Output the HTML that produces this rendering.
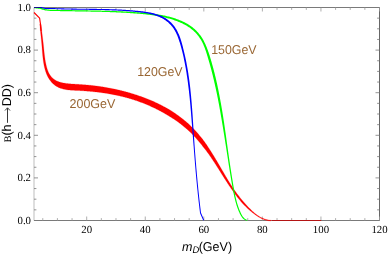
<!DOCTYPE html>
<html><head><meta charset="utf-8"><title>plot</title>
<style>
html,body{margin:0;padding:0;background:#fff;}
body{width:388px;height:255px;overflow:hidden;}
svg{display:block;will-change:transform;}
.t{font-family:"Liberation Serif",serif;font-size:10.8px;fill:#000;}
text{text-rendering:geometricPrecision;}
.l{font-family:"Liberation Sans",sans-serif;font-size:12.8px;fill:#996633;}
.a{font-family:"Liberation Sans",sans-serif;font-size:12.8px;fill:#000;}
</style></head><body>
<svg width="388" height="255" viewBox="0 0 388 255">
<rect width="388" height="255" fill="#fff"/>
<!-- frame -->
<path d="M34.0 7.5 V220.5" stroke="#bdbdbd" stroke-width="1" fill="none"/>
<path d="M379.5 7.5 V220.5" stroke="#666" stroke-width="1" fill="none"/>
<path d="M34.0 7.5 H379.5 M34.0 220.5 H379.5" stroke="#7a7a7a" stroke-width="1" fill="none"/>
<path d="M42.78 220.5 V218.10 M42.78 7.5 V9.90" stroke="#9a9a9a" stroke-width="0.8"/>
<path d="M57.42 220.5 V218.10 M57.42 7.5 V9.90" stroke="#9a9a9a" stroke-width="0.8"/>
<path d="M72.06 220.5 V218.10 M72.06 7.5 V9.90" stroke="#9a9a9a" stroke-width="0.8"/>
<path d="M86.70 220.5 V216.50 M86.70 7.5 V11.50" stroke="#9a9a9a" stroke-width="0.8"/>
<path d="M101.34 220.5 V218.10 M101.34 7.5 V9.90" stroke="#9a9a9a" stroke-width="0.8"/>
<path d="M115.98 220.5 V218.10 M115.98 7.5 V9.90" stroke="#9a9a9a" stroke-width="0.8"/>
<path d="M130.62 220.5 V218.10 M130.62 7.5 V9.90" stroke="#9a9a9a" stroke-width="0.8"/>
<path d="M145.26 220.5 V216.50 M145.26 7.5 V11.50" stroke="#9a9a9a" stroke-width="0.8"/>
<path d="M159.90 220.5 V218.10 M159.90 7.5 V9.90" stroke="#9a9a9a" stroke-width="0.8"/>
<path d="M174.54 220.5 V218.10 M174.54 7.5 V9.90" stroke="#9a9a9a" stroke-width="0.8"/>
<path d="M189.18 220.5 V218.10 M189.18 7.5 V9.90" stroke="#9a9a9a" stroke-width="0.8"/>
<path d="M203.82 220.5 V216.50 M203.82 7.5 V11.50" stroke="#9a9a9a" stroke-width="0.8"/>
<path d="M218.46 220.5 V218.10 M218.46 7.5 V9.90" stroke="#9a9a9a" stroke-width="0.8"/>
<path d="M233.10 220.5 V218.10 M233.10 7.5 V9.90" stroke="#9a9a9a" stroke-width="0.8"/>
<path d="M247.74 220.5 V218.10 M247.74 7.5 V9.90" stroke="#9a9a9a" stroke-width="0.8"/>
<path d="M262.38 220.5 V216.50 M262.38 7.5 V11.50" stroke="#9a9a9a" stroke-width="0.8"/>
<path d="M277.02 220.5 V218.10 M277.02 7.5 V9.90" stroke="#9a9a9a" stroke-width="0.8"/>
<path d="M291.66 220.5 V218.10 M291.66 7.5 V9.90" stroke="#9a9a9a" stroke-width="0.8"/>
<path d="M306.30 220.5 V218.10 M306.30 7.5 V9.90" stroke="#9a9a9a" stroke-width="0.8"/>
<path d="M320.94 220.5 V216.50 M320.94 7.5 V11.50" stroke="#9a9a9a" stroke-width="0.8"/>
<path d="M335.58 220.5 V218.10 M335.58 7.5 V9.90" stroke="#9a9a9a" stroke-width="0.8"/>
<path d="M350.22 220.5 V218.10 M350.22 7.5 V9.90" stroke="#9a9a9a" stroke-width="0.8"/>
<path d="M364.86 220.5 V218.10 M364.86 7.5 V9.90" stroke="#9a9a9a" stroke-width="0.8"/>
<path d="M379.50 220.5 V216.50 M379.50 7.5 V11.50" stroke="#9a9a9a" stroke-width="0.8"/>
<path d="M34.0 220.50 H38.00 M379.5 220.50 H375.50" stroke="#7a7a7a" stroke-width="0.8"/>
<path d="M34.0 209.85 H36.40 M379.5 209.85 H377.10" stroke="#7a7a7a" stroke-width="0.8"/>
<path d="M34.0 199.20 H36.40 M379.5 199.20 H377.10" stroke="#7a7a7a" stroke-width="0.8"/>
<path d="M34.0 188.55 H36.40 M379.5 188.55 H377.10" stroke="#7a7a7a" stroke-width="0.8"/>
<path d="M34.0 177.90 H38.00 M379.5 177.90 H375.50" stroke="#7a7a7a" stroke-width="0.8"/>
<path d="M34.0 167.25 H36.40 M379.5 167.25 H377.10" stroke="#7a7a7a" stroke-width="0.8"/>
<path d="M34.0 156.60 H36.40 M379.5 156.60 H377.10" stroke="#7a7a7a" stroke-width="0.8"/>
<path d="M34.0 145.95 H36.40 M379.5 145.95 H377.10" stroke="#7a7a7a" stroke-width="0.8"/>
<path d="M34.0 135.30 H38.00 M379.5 135.30 H375.50" stroke="#7a7a7a" stroke-width="0.8"/>
<path d="M34.0 124.65 H36.40 M379.5 124.65 H377.10" stroke="#7a7a7a" stroke-width="0.8"/>
<path d="M34.0 114.00 H36.40 M379.5 114.00 H377.10" stroke="#7a7a7a" stroke-width="0.8"/>
<path d="M34.0 103.35 H36.40 M379.5 103.35 H377.10" stroke="#7a7a7a" stroke-width="0.8"/>
<path d="M34.0 92.70 H38.00 M379.5 92.70 H375.50" stroke="#7a7a7a" stroke-width="0.8"/>
<path d="M34.0 82.05 H36.40 M379.5 82.05 H377.10" stroke="#7a7a7a" stroke-width="0.8"/>
<path d="M34.0 71.40 H36.40 M379.5 71.40 H377.10" stroke="#7a7a7a" stroke-width="0.8"/>
<path d="M34.0 60.75 H36.40 M379.5 60.75 H377.10" stroke="#7a7a7a" stroke-width="0.8"/>
<path d="M34.0 50.10 H38.00 M379.5 50.10 H375.50" stroke="#7a7a7a" stroke-width="0.8"/>
<path d="M34.0 39.45 H36.40 M379.5 39.45 H377.10" stroke="#7a7a7a" stroke-width="0.8"/>
<path d="M34.0 28.80 H36.40 M379.5 28.80 H377.10" stroke="#7a7a7a" stroke-width="0.8"/>
<path d="M34.0 18.15 H36.40 M379.5 18.15 H377.10" stroke="#7a7a7a" stroke-width="0.8"/>
<path d="M34.0 7.50 H38.00 M379.5 7.50 H375.50" stroke="#7a7a7a" stroke-width="0.8"/>
<!-- curves -->
<path d="M34.00 12.50 L39.60 18.20 L40.50 24.00 L41.10 31.00" stroke="#ff0000" stroke-width="1.15" fill="none" stroke-linejoin="round"/>
<path d="M39.78 24.07 L39.83 24.75 L39.89 25.43 L39.95 26.11 L40.02 26.78 L40.08 27.45 L40.14 28.12 L40.21 28.79 L40.27 29.45 L40.34 30.12 L40.40 30.78 L40.47 31.44 L40.54 32.10 L40.61 32.76 L40.67 33.42 L40.74 34.08 L40.81 34.74 L40.88 35.39 L40.95 36.05 L41.01 36.71 L41.08 37.36 L41.15 38.02 L41.21 38.67 L41.28 39.33 L41.35 39.99 L41.41 40.64 L41.47 41.30 L41.54 41.96 L41.60 42.62 L41.66 43.28 L41.72 43.94 L41.78 44.60 L41.83 45.26 L41.89 45.93 L41.94 46.59 L41.99 47.26 L42.05 47.93 L42.10 48.60 L42.15 49.28 L42.21 49.95 L42.26 50.63 L42.31 51.30 L42.37 51.98 L42.43 52.66 L42.49 53.34 L42.55 54.02 L42.61 54.70 L42.67 55.38 L42.74 56.06 L42.81 56.75 L42.88 57.43 L42.96 58.11 L43.04 58.80 L43.13 59.48 L43.21 60.16 L43.31 60.85 L43.40 61.53 L43.51 62.22 L43.62 62.90 L43.73 63.58 L43.85 64.27 L43.98 64.95 L44.11 65.63 L44.26 66.31 L44.41 66.99 L44.56 67.67 L44.73 68.35 L44.90 69.02 L45.09 69.69 L45.28 70.36 L45.49 71.03 L45.70 71.69 L45.93 72.34 L46.16 72.99 L46.41 73.64 L46.67 74.28 L46.94 74.91 L47.23 75.54 L47.53 76.16 L47.83 76.77 L48.16 77.38 L48.49 77.98 L48.85 78.57 L49.23 79.14 L49.62 79.71 L50.01 80.27 L50.42 80.83 L50.84 81.37 L51.28 81.91 L51.75 82.41 L52.24 82.90 L52.72 83.40 L53.22 83.89 L53.73 84.36 L54.27 84.81 L54.82 85.23 L55.40 85.63 L55.99 86.00 L56.59 86.38 L57.19 86.74 L57.81 87.07 L58.44 87.39 L59.08 87.67 L59.73 87.93 L60.38 88.17 L61.04 88.40 L61.71 88.62 L62.38 88.82 L63.06 89.01 L63.74 89.17 L64.42 89.32 L65.11 89.45 L65.80 89.58 L66.49 89.69 L67.19 89.79 L67.88 89.88 L68.58 89.96 L69.28 90.03 L69.97 90.09 L70.67 90.15 L71.37 90.20 L72.06 90.24 L72.76 90.28 L73.45 90.32 L74.15 90.35 L74.84 90.38 L75.53 90.41 L76.21 90.44 L76.90 90.47 L77.58 90.51 L78.26 90.54 L78.94 90.57 L79.62 90.61 L80.29 90.64 L80.97 90.68 L81.65 90.73 L82.32 90.77 L83.00 90.82 L83.67 90.87 L84.35 90.92 L85.02 90.97 L85.69 91.03 L86.36 91.08 L87.03 91.14 L87.70 91.20 L88.38 91.26 L89.05 91.31 L89.72 91.37 L90.39 91.43 L91.05 91.49 L91.72 91.55 L92.39 91.62 L93.06 91.68 L93.72 91.75 L94.39 91.82 L95.05 91.89 L95.72 91.97 L96.38 92.04 L97.05 92.12 L97.71 92.20 L98.37 92.28 L99.03 92.36 L99.69 92.44 L100.35 92.53 L101.01 92.61 L101.67 92.70 L102.33 92.79 L102.99 92.88 L103.65 92.98 L104.30 93.07 L104.96 93.17 L105.61 93.27 L106.27 93.36 L106.93 93.46 L107.58 93.57 L108.23 93.68 L108.88 93.79 L109.53 93.91 L110.18 94.03 L110.83 94.14 L111.48 94.27 L112.13 94.39 L112.78 94.51 L113.42 94.64 L114.07 94.77 L114.72 94.90 L115.36 95.03 L116.01 95.17 L116.65 95.30 L117.29 95.44 L117.93 95.58 L118.57 95.72 L119.22 95.87 L119.86 96.01 L120.50 96.16 L121.13 96.31 L121.77 96.46 L122.41 96.62 L123.05 96.77 L123.68 96.93 L124.32 97.09 L124.95 97.25 L125.59 97.41 L126.22 97.58 L126.85 97.75 L127.48 97.92 L128.12 98.09 L128.75 98.27 L129.37 98.45 L130.00 98.63 L130.63 98.81 L131.26 99.00 L131.88 99.19 L132.50 99.39 L133.13 99.58 L133.75 99.78 L134.37 99.98 L134.99 100.19 L135.61 100.40 L136.23 100.61 L136.85 100.82 L137.46 101.03 L138.08 101.25 L138.69 101.47 L139.31 101.69 L139.92 101.92 L140.53 102.15 L141.14 102.38 L141.75 102.61 L142.36 102.84 L142.97 103.08 L143.58 103.32 L144.18 103.56 L144.79 103.81 L145.39 104.06 L146.00 104.31 L146.60 104.56 L147.20 104.82 L147.80 105.07 L148.41 105.33 L149.01 105.59 L149.60 105.86 L150.20 106.12 L150.80 106.39 L151.40 106.66 L151.99 106.93 L152.59 107.20 L153.19 107.48 L153.78 107.76 L154.37 108.04 L154.96 108.32 L155.56 108.61 L156.15 108.90 L156.74 109.19 L157.32 109.49 L157.91 109.78 L158.49 110.09 L159.08 110.39 L159.66 110.70 L160.24 111.01 L160.82 111.33 L161.40 111.64 L161.97 111.96 L162.55 112.28 L163.12 112.61 L163.70 112.94 L164.27 113.27 L164.84 113.60 L165.41 113.93 L165.97 114.27 L166.54 114.60 L167.11 114.94 L167.67 115.28 L168.24 115.62 L168.80 115.97 L169.36 116.31 L169.93 116.65 L170.49 117.00 L171.05 117.35 L171.61 117.70 L172.16 118.05 L172.72 118.40 L173.28 118.76 L173.83 119.12 L174.38 119.48 L174.93 119.84 L175.48 120.21 L176.02 120.57 L176.57 120.94 L177.11 121.32 L177.64 121.70 L178.17 122.09 L178.70 122.48 L179.23 122.88 L179.75 123.27 L180.27 123.68 L180.79 124.08 L181.30 124.49 L181.82 124.89 L182.33 125.31 L182.83 125.72 L183.34 126.14 L183.85 126.55 L184.35 126.97 L184.85 127.39 L185.35 127.82 L185.85 128.24 L186.34 128.67 L186.83 129.10 L187.32 129.53 L187.81 129.96 L188.30 130.40 L188.79 130.83 L189.27 131.27 L189.74 131.72 L190.22 132.17 L190.69 132.62 L191.15 133.08 L191.61 133.54 L192.07 134.01 L192.53 134.47 L192.99 134.94 L193.44 135.42 L193.88 135.90 L194.33 136.38 L194.77 136.86 L195.21 137.34 L195.65 137.83 L196.08 138.32 L196.51 138.81 L196.94 139.31 L197.37 139.81 L197.80 140.30 L198.23 140.81 L198.65 141.31 L199.07 141.81 L199.49 142.32 L199.91 142.82 L200.33 143.33 L200.75 143.84 L201.17 144.35 L201.59 144.86 L202.01 145.37 L202.42 145.89 L202.84 146.40 L203.25 146.92 L203.66 147.43 L204.07 147.95 L204.48 148.47 L204.89 149.00 L205.30 149.52 L205.70 150.05 L206.11 150.57 L206.51 151.10 L206.91 151.63 L207.31 152.17 L207.70 152.70 L208.09 153.24 L208.48 153.78 L208.86 154.32 L209.25 154.87 L209.63 155.41 L210.01 155.96 L210.39 156.51 L210.77 157.06 L211.14 157.61 L211.52 158.16 L211.89 158.71 L212.26 159.27 L212.63 159.82 L213.00 160.38 L213.37 160.93 L213.74 161.49 L214.10 162.05 L214.47 162.61 L214.83 163.17 L215.19 163.73 L215.55 164.29 L215.91 164.85 L216.27 165.41 L216.63 165.97 L216.99 166.54 L217.35 167.10 L217.71 167.67 L218.06 168.23 L218.42 168.79 L218.77 169.36 L219.13 169.93 L219.48 170.49 L219.84 171.06 L220.19 171.62 L220.55 172.19 L220.90 172.75 L221.26 173.32 L221.61 173.89 L221.97 174.45 L222.32 175.02 L222.68 175.58 L223.04 176.15 L223.39 176.72 L223.75 177.28 L224.11 177.84 L224.47 178.41 L224.83 178.97 L225.19 179.54 L225.55 180.10 L225.91 180.66 L226.27 181.22 L226.64 181.78 L227.00 182.34 L227.37 182.90 L227.74 183.46 L228.10 184.02 L228.47 184.58 L228.85 185.14 L229.22 185.70 L229.59 186.25 L229.97 186.81 L230.34 187.36 L230.72 187.92 L231.10 188.47 L231.48 189.02 L231.86 189.57 L232.24 190.12 L232.63 190.67 L233.01 191.22 L233.40 191.77 L233.79 192.32 L234.19 192.86 L234.58 193.41 L234.97 193.95 L235.37 194.50 L235.77 195.04 L236.18 195.58 L236.58 196.12 L236.99 196.65 L237.41 197.19 L237.82 197.72 L238.24 198.25 L238.67 198.78 L239.10 199.30 L239.53 199.83 L239.96 200.35 L240.40 200.87 L240.84 201.38 L241.29 201.89 L241.73 202.40 L242.19 202.91 L242.64 203.41 L243.10 203.91 L243.57 204.40 L244.03 204.90 L244.50 205.38 L244.97 205.87 L245.45 206.35 L245.93 206.83 L246.42 207.30 L246.90 207.77 L247.39 208.24 L247.89 208.70 L248.39 209.16 L248.89 209.61 L249.39 210.06 L249.90 210.50 L250.41 210.93 L250.93 211.36 L251.45 211.79 L251.97 212.21 L252.50 212.63 L253.03 213.04 L253.56 213.45 L254.09 213.86 L254.62 214.26 L255.16 214.65 L255.71 215.04 L256.25 215.42 L256.80 215.80 L257.35 216.17 L257.91 216.53 L258.47 216.88 L259.04 217.22 L259.62 217.55 L260.20 217.87 L260.78 218.17 L261.37 218.47 L261.97 218.75 L262.58 219.02 L263.19 219.27 L263.81 219.51 L264.44 219.73 L265.08 219.94 L265.73 220.13 L266.38 220.30 L267.04 220.46 L267.72 220.59 L268.40 220.71 L269.09 220.80 L269.79 220.88 L270.50 220.93 L271.21 220.96 L271.24 220.21 L270.54 220.18 L269.86 220.13 L269.18 220.05 L268.51 219.96 L267.85 219.85 L267.20 219.72 L266.56 219.57 L265.93 219.40 L265.30 219.22 L264.68 219.02 L264.07 218.81 L263.47 218.58 L262.87 218.33 L262.28 218.07 L261.70 217.80 L261.12 217.51 L260.55 217.21 L259.99 216.89 L259.43 216.56 L258.88 216.22 L258.33 215.87 L257.79 215.51 L257.26 215.14 L256.73 214.75 L256.21 214.36 L255.69 213.96 L255.18 213.55 L254.67 213.13 L254.17 212.70 L253.67 212.27 L253.18 211.83 L252.69 211.38 L252.20 210.93 L251.72 210.48 L251.24 210.02 L250.76 209.55 L250.29 209.09 L249.82 208.62 L249.35 208.15 L248.88 207.68 L248.41 207.20 L247.95 206.72 L247.49 206.24 L247.04 205.75 L246.58 205.27 L246.13 204.77 L245.68 204.28 L245.24 203.78 L244.79 203.28 L244.35 202.78 L243.91 202.28 L243.48 201.77 L243.04 201.26 L242.61 200.75 L242.18 200.24 L241.76 199.73 L241.33 199.21 L240.91 198.69 L240.49 198.17 L240.08 197.65 L239.66 197.13 L239.25 196.60 L238.84 196.07 L238.43 195.55 L238.03 195.02 L237.62 194.49 L237.22 193.96 L236.82 193.42 L236.43 192.89 L236.03 192.35 L235.64 191.81 L235.26 191.27 L234.87 190.73 L234.49 190.18 L234.12 189.64 L233.74 189.09 L233.37 188.54 L232.99 187.99 L232.63 187.44 L232.26 186.88 L231.90 186.33 L231.53 185.77 L231.17 185.21 L230.82 184.65 L230.46 184.09 L230.11 183.53 L229.75 182.96 L229.40 182.40 L229.06 181.83 L228.71 181.27 L228.36 180.70 L228.01 180.13 L227.67 179.56 L227.33 178.99 L226.99 178.42 L226.65 177.85 L226.31 177.28 L225.97 176.71 L225.63 176.13 L225.29 175.56 L224.95 174.98 L224.61 174.41 L224.27 173.83 L223.94 173.26 L223.60 172.68 L223.27 172.11 L222.93 171.53 L222.60 170.95 L222.26 170.38 L221.92 169.80 L221.59 169.22 L221.25 168.64 L220.92 168.06 L220.58 167.49 L220.25 166.91 L219.91 166.33 L219.57 165.75 L219.24 165.17 L218.90 164.59 L218.56 164.01 L218.22 163.44 L217.88 162.86 L217.54 162.28 L217.20 161.70 L216.86 161.12 L216.51 160.54 L216.17 159.97 L215.82 159.39 L215.48 158.81 L215.13 158.24 L214.78 157.66 L214.43 157.09 L214.08 156.51 L213.73 155.94 L213.37 155.36 L213.02 154.79 L212.66 154.22 L212.31 153.64 L211.95 153.07 L211.59 152.50 L211.23 151.93 L210.87 151.36 L210.50 150.79 L210.14 150.22 L209.78 149.65 L209.41 149.08 L209.05 148.51 L208.68 147.94 L208.31 147.38 L207.94 146.81 L207.57 146.25 L207.20 145.68 L206.82 145.12 L206.44 144.56 L206.06 144.00 L205.67 143.45 L205.28 142.89 L204.89 142.34 L204.49 141.79 L204.09 141.24 L203.69 140.70 L203.29 140.16 L202.88 139.62 L202.46 139.08 L202.04 138.55 L201.62 138.02 L201.20 137.49 L200.77 136.96 L200.34 136.44 L199.91 135.91 L199.47 135.39 L199.03 134.88 L198.59 134.36 L198.14 133.85 L197.70 133.34 L197.25 132.83 L196.79 132.33 L196.34 131.82 L195.88 131.32 L195.42 130.82 L194.96 130.32 L194.49 129.82 L194.02 129.33 L193.55 128.84 L193.08 128.34 L192.60 127.86 L192.12 127.37 L191.65 126.88 L191.16 126.40 L190.67 125.92 L190.18 125.44 L189.68 124.97 L189.19 124.51 L188.68 124.04 L188.18 123.58 L187.67 123.12 L187.15 122.67 L186.63 122.22 L186.11 121.78 L185.59 121.34 L185.06 120.90 L184.53 120.47 L184.00 120.04 L183.46 119.61 L182.93 119.18 L182.38 118.76 L181.84 118.34 L181.30 117.92 L180.75 117.51 L180.21 117.09 L179.66 116.68 L179.11 116.26 L178.57 115.85 L178.01 115.44 L177.46 115.03 L176.90 114.63 L176.35 114.23 L175.79 113.83 L175.22 113.44 L174.66 113.05 L174.09 112.66 L173.52 112.28 L172.95 111.90 L172.37 111.53 L171.79 111.16 L171.21 110.79 L170.63 110.43 L170.04 110.07 L169.45 109.72 L168.86 109.37 L168.27 109.02 L167.68 108.68 L167.08 108.34 L166.48 108.01 L165.88 107.68 L165.28 107.35 L164.68 107.02 L164.08 106.70 L163.47 106.38 L162.87 106.06 L162.26 105.75 L161.65 105.44 L161.04 105.12 L160.44 104.82 L159.83 104.51 L159.22 104.21 L158.61 103.90 L158.00 103.60 L157.38 103.31 L156.77 103.01 L156.16 102.72 L155.54 102.43 L154.93 102.15 L154.31 101.86 L153.69 101.58 L153.07 101.30 L152.46 101.03 L151.83 100.76 L151.21 100.49 L150.59 100.22 L149.97 99.96 L149.34 99.70 L148.72 99.45 L148.09 99.19 L147.46 98.94 L146.83 98.70 L146.21 98.45 L145.58 98.21 L144.95 97.97 L144.31 97.73 L143.68 97.49 L143.05 97.26 L142.42 97.03 L141.78 96.80 L141.15 96.58 L140.51 96.35 L139.88 96.13 L139.24 95.91 L138.60 95.69 L137.96 95.48 L137.32 95.26 L136.68 95.05 L136.04 94.85 L135.40 94.64 L134.76 94.43 L134.12 94.23 L133.48 94.03 L132.83 93.83 L132.19 93.64 L131.55 93.44 L130.90 93.25 L130.26 93.05 L129.61 92.86 L128.96 92.67 L128.32 92.49 L127.67 92.30 L127.02 92.12 L126.37 91.94 L125.72 91.76 L125.07 91.58 L124.42 91.41 L123.77 91.23 L123.11 91.06 L122.46 90.90 L121.80 90.73 L121.15 90.57 L120.49 90.41 L119.84 90.25 L119.18 90.10 L118.52 89.95 L117.86 89.79 L117.20 89.65 L116.54 89.50 L115.88 89.36 L115.22 89.21 L114.56 89.08 L113.89 88.94 L113.23 88.80 L112.56 88.67 L111.90 88.54 L111.23 88.41 L110.57 88.28 L109.90 88.16 L109.23 88.04 L108.56 87.92 L107.90 87.79 L107.23 87.67 L106.56 87.55 L105.89 87.43 L105.22 87.31 L104.55 87.20 L103.87 87.08 L103.20 86.97 L102.53 86.87 L101.85 86.76 L101.18 86.66 L100.50 86.56 L99.83 86.46 L99.15 86.36 L98.48 86.27 L97.80 86.17 L97.12 86.08 L96.44 85.99 L95.76 85.91 L95.08 85.82 L94.40 85.74 L93.72 85.65 L93.04 85.57 L92.36 85.49 L91.67 85.42 L90.99 85.34 L90.31 85.27 L89.62 85.20 L88.94 85.13 L88.25 85.06 L87.57 85.00 L86.88 84.94 L86.19 84.89 L85.50 84.84 L84.81 84.78 L84.13 84.73 L83.44 84.68 L82.75 84.63 L82.06 84.58 L81.37 84.53 L80.67 84.49 L79.98 84.44 L79.29 84.40 L78.60 84.35 L77.91 84.31 L77.22 84.27 L76.53 84.23 L75.84 84.19 L75.16 84.15 L74.48 84.11 L73.81 84.07 L73.13 84.03 L72.47 83.98 L71.81 83.94 L71.15 83.89 L70.50 83.84 L69.85 83.78 L69.21 83.73 L68.58 83.66 L67.95 83.60 L67.33 83.53 L66.71 83.46 L66.10 83.38 L65.50 83.30 L64.91 83.20 L64.32 83.11 L63.74 83.01 L63.17 82.90 L62.60 82.80 L62.04 82.68 L61.49 82.54 L60.95 82.39 L60.41 82.24 L59.88 82.09 L59.35 81.93 L58.82 81.76 L58.30 81.58 L57.80 81.36 L57.30 81.13 L56.80 80.89 L56.29 80.65 L55.79 80.39 L55.29 80.12 L54.80 79.83 L54.34 79.50 L53.88 79.16 L53.42 78.81 L52.96 78.45 L52.52 78.07 L52.09 77.66 L51.68 77.24 L51.29 76.79 L50.91 76.33 L50.53 75.86 L50.18 75.37 L49.84 74.87 L49.52 74.34 L49.21 73.80 L48.92 73.24 L48.64 72.68 L48.38 72.10 L48.12 71.50 L47.88 70.90 L47.66 70.29 L47.44 69.67 L47.23 69.05 L47.04 68.41 L46.85 67.78 L46.67 67.13 L46.50 66.48 L46.34 65.83 L46.18 65.18 L46.03 64.52 L45.89 63.86 L45.75 63.20 L45.62 62.54 L45.49 61.88 L45.37 61.21 L45.25 60.55 L45.14 59.88 L45.04 59.21 L44.94 58.54 L44.84 57.87 L44.75 57.20 L44.66 56.53 L44.57 55.86 L44.49 55.18 L44.41 54.51 L44.34 53.84 L44.26 53.16 L44.19 52.49 L44.12 51.82 L44.05 51.14 L43.99 50.47 L43.92 49.80 L43.85 49.13 L43.78 48.45 L43.72 47.78 L43.65 47.11 L43.58 46.44 L43.51 45.78 L43.44 45.11 L43.37 44.44 L43.30 43.78 L43.22 43.12 L43.15 42.46 L43.07 41.80 L42.99 41.14 L42.92 40.48 L42.84 39.82 L42.76 39.17 L42.68 38.51 L42.60 37.85 L42.51 37.20 L42.43 36.54 L42.35 35.89 L42.27 35.24 L42.19 34.58 L42.11 33.93 L42.03 33.27 L41.95 32.61 L41.87 31.96 L41.79 31.30 L41.71 30.64 L41.63 29.98 L41.56 29.32 L41.48 28.65 L41.41 27.99 L41.34 27.32 L41.26 26.66 L41.20 25.99 L41.13 25.32 L41.06 24.64 L41.00 23.96 Z" fill="#ff0000" stroke="#ff0000" stroke-width="0.2" stroke-linejoin="round"/>
<path d="M33.94 8.20 L34.69 8.27 L35.44 8.35 L36.19 8.42 L36.94 8.50 L37.69 8.57 L38.44 8.65 L39.19 8.72 L39.89 8.79 L40.52 8.98 L41.21 9.18 L41.89 9.38 L42.58 9.58 L43.27 9.78 L43.96 9.98 L44.64 10.18 L45.38 10.39 L46.00 10.46 L46.56 10.52 L47.12 10.58 L47.68 10.65 L48.25 10.71 L48.81 10.77 L49.38 10.83 L49.97 10.88 L50.86 10.91 L51.73 10.93 L52.61 10.95 L53.48 10.97 L54.36 10.99 L55.23 11.02 L56.11 11.04 L56.98 11.05 L57.86 11.07 L58.73 11.09 L59.61 11.11 L60.48 11.13 L61.36 11.14 L62.23 11.16 L63.11 11.18 L63.98 11.19 L64.86 11.21 L65.73 11.22 L66.61 11.24 L67.48 11.25 L68.35 11.27 L69.23 11.28 L70.10 11.30 L70.98 11.31 L71.85 11.32 L72.73 11.34 L73.60 11.35 L74.48 11.36 L75.35 11.38 L76.23 11.39 L77.10 11.40 L77.98 11.42 L78.85 11.43 L79.73 11.44 L80.60 11.46 L81.48 11.47 L82.35 11.48 L83.23 11.50 L84.10 11.51 L84.97 11.52 L85.85 11.54 L86.72 11.55 L87.60 11.57 L88.47 11.58 L89.35 11.60 L90.22 11.61 L91.10 11.63 L91.97 11.65 L92.84 11.67 L93.72 11.69 L94.59 11.70 L95.47 11.72 L96.34 11.74 L97.22 11.76 L98.09 11.78 L98.96 11.81 L99.84 11.83 L100.71 11.85 L101.58 11.87 L102.46 11.90 L103.33 11.92 L104.21 11.95 L105.08 11.97 L105.95 12.00 L106.83 12.03 L107.70 12.06 L108.57 12.08 L109.45 12.11 L110.32 12.14 L111.19 12.18 L112.07 12.21 L112.94 12.24 L113.81 12.28 L114.69 12.31 L115.56 12.35 L116.43 12.38 L117.31 12.42 L118.18 12.46 L119.05 12.50 L119.92 12.54 L120.80 12.59 L121.67 12.63 L122.54 12.68 L123.41 12.72 L124.29 12.77 L125.16 12.82 L126.03 12.87 L126.90 12.92 L127.77 12.97 L128.65 13.03 L129.52 13.08 L130.39 13.14 L131.26 13.20 L132.13 13.26 L133.00 13.32 L133.88 13.38 L134.75 13.45 L135.62 13.51 L136.49 13.58 L137.36 13.65 L138.23 13.72 L139.10 13.79 L139.97 13.86 L140.84 13.94 L141.71 14.02 L142.58 14.10 L143.45 14.18 L144.32 14.27 L145.19 14.36 L146.06 14.45 L146.93 14.54 L147.79 14.64 L148.66 14.74 L149.53 14.84 L150.39 14.95 L151.25 15.06 L152.12 15.18 L152.98 15.30 L153.84 15.43 L154.70 15.56 L155.56 15.70 L156.42 15.84 L157.28 15.98 L158.14 16.13 L158.99 16.29 L159.85 16.45 L160.70 16.62 L161.56 16.79 L162.41 16.96 L163.26 17.15 L164.11 17.33 L164.95 17.53 L165.80 17.73 L166.64 17.94 L167.48 18.16 L168.32 18.38 L169.15 18.61 L169.99 18.85 L170.82 19.09 L171.64 19.34 L172.47 19.60 L173.29 19.87 L174.11 20.15 L174.92 20.43 L175.74 20.72 L176.55 21.02 L177.35 21.33 L178.15 21.65 L178.95 21.98 L179.74 22.32 L180.53 22.66 L181.32 23.01 L182.10 23.37 L182.87 23.74 L183.64 24.13 L184.40 24.52 L185.16 24.93 L185.91 25.34 L186.64 25.77 L187.38 26.22 L188.10 26.67 L188.81 27.14 L189.52 27.62 L190.21 28.12 L190.90 28.63 L191.57 29.15 L192.23 29.69 L192.88 30.25 L193.52 30.82 L194.15 31.40 L194.77 32.00 L195.37 32.61 L195.96 33.24 L196.53 33.87 L197.10 34.52 L197.64 35.18 L198.17 35.85 L198.69 36.53 L199.19 37.22 L199.67 37.92 L200.14 38.63 L200.59 39.35 L201.03 40.08 L201.45 40.81 L201.86 41.56 L202.25 42.31 L202.63 43.07 L203.00 43.84 L203.36 44.62 L203.70 45.40 L204.03 46.19 L204.35 46.99 L204.66 47.79 L204.97 48.59 L205.26 49.40 L205.55 50.22 L205.82 51.04 L206.09 51.87 L206.36 52.69 L206.61 53.53 L206.87 54.36 L207.12 55.19 L207.37 56.03 L207.62 56.87 L207.87 57.70 L208.13 58.54 L208.38 59.38 L208.63 60.21 L208.87 61.05 L209.11 61.89 L209.36 62.73 L209.59 63.57 L209.83 64.41 L210.07 65.25 L210.30 66.09 L210.53 66.93 L210.76 67.77 L210.98 68.61 L211.20 69.46 L211.43 70.30 L211.65 71.14 L211.86 71.99 L212.08 72.83 L212.29 73.68 L212.50 74.52 L212.71 75.37 L212.92 76.21 L213.13 77.06 L213.33 77.91 L213.53 78.76 L213.73 79.60 L213.93 80.45 L214.13 81.30 L214.32 82.15 L214.51 83.00 L214.70 83.85 L214.89 84.70 L215.08 85.55 L215.27 86.40 L215.46 87.25 L215.65 88.10 L215.83 88.96 L216.02 89.81 L216.20 90.66 L216.38 91.51 L216.56 92.36 L216.74 93.22 L216.92 94.07 L217.10 94.93 L217.27 95.78 L217.44 96.64 L217.61 97.49 L217.78 98.35 L217.95 99.20 L218.11 100.06 L218.28 100.91 L218.44 101.77 L218.61 102.63 L218.77 103.49 L218.93 104.34 L219.09 105.20 L219.25 106.06 L219.40 106.92 L219.56 107.78 L219.71 108.64 L219.87 109.50 L220.02 110.36 L220.17 111.22 L220.32 112.08 L220.47 112.94 L220.62 113.80 L220.77 114.66 L220.92 115.52 L221.06 116.38 L221.21 117.24 L221.36 118.10 L221.51 118.96 L221.65 119.82 L221.80 120.69 L221.94 121.55 L222.09 122.41 L222.23 123.27 L222.38 124.13 L222.52 125.00 L222.66 125.86 L222.80 126.72 L222.94 127.59 L223.08 128.45 L223.22 129.31 L223.36 130.18 L223.50 131.04 L223.64 131.90 L223.78 132.77 L223.92 133.63 L224.05 134.49 L224.19 135.36 L224.33 136.22 L224.47 137.09 L224.60 137.95 L224.74 138.82 L224.87 139.68 L225.01 140.55 L225.14 141.41 L225.28 142.27 L225.42 143.14 L225.55 144.00 L225.69 144.87 L225.82 145.73 L225.95 146.60 L226.09 147.46 L226.22 148.33 L226.36 149.19 L226.49 150.06 L226.63 150.92 L226.76 151.79 L226.90 152.65 L227.03 153.52 L227.16 154.38 L227.29 155.25 L227.42 156.12 L227.55 156.98 L227.69 157.85 L227.82 158.71 L227.95 159.58 L228.09 160.44 L228.22 161.31 L228.35 162.17 L228.49 163.04 L228.62 163.90 L228.76 164.77 L228.89 165.63 L229.03 166.50 L229.16 167.36 L229.30 168.23 L229.43 169.09 L229.57 169.96 L229.71 170.82 L229.84 171.68 L229.98 172.55 L230.12 173.41 L230.26 174.28 L230.40 175.14 L230.54 176.00 L230.69 176.87 L230.83 177.73 L230.97 178.59 L231.12 179.46 L231.26 180.32 L231.41 181.18 L231.56 182.04 L231.71 182.90 L231.85 183.77 L232.00 184.63 L232.16 185.49 L232.31 186.35 L232.46 187.21 L232.61 188.07 L232.77 188.93 L232.92 189.80 L233.08 190.66 L233.24 191.52 L233.41 192.38 L233.57 193.24 L233.75 194.10 L233.92 194.95 L234.10 195.81 L234.29 196.67 L234.48 197.52 L234.68 198.37 L234.88 199.23 L235.09 200.08 L235.31 200.93 L235.54 201.77 L235.77 202.62 L236.01 203.46 L236.26 204.31 L236.52 205.15 L236.79 205.98 L237.07 206.82 L237.36 207.65 L237.66 208.48 L237.97 209.31 L238.30 210.14 L238.63 210.96 L238.98 211.78 L239.34 212.60 L239.71 213.41 L240.10 214.22 L240.51 215.03 L240.95 215.82 L241.42 216.59 L241.93 217.34 L242.49 218.04 L243.11 218.69 L243.79 219.28 L244.53 219.81 L245.33 220.25 L246.21 220.61 L247.13 220.86 L247.41 219.90 L246.56 219.63 L245.81 219.29 L245.13 218.88 L244.51 218.40 L243.93 217.86 L243.40 217.27 L242.90 216.63 L242.43 215.94 L241.99 215.22 L241.57 214.47 L241.18 213.69 L240.80 212.90 L240.43 212.10 L240.08 211.30 L239.74 210.50 L239.41 209.69 L239.09 208.88 L238.79 208.07 L238.49 207.25 L238.21 206.43 L237.93 205.61 L237.67 204.79 L237.41 203.96 L237.16 203.13 L236.93 202.30 L236.69 201.46 L236.47 200.62 L236.26 199.78 L236.05 198.94 L235.85 198.10 L235.65 197.25 L235.46 196.41 L235.28 195.56 L235.10 194.71 L234.92 193.86 L234.75 193.00 L234.58 192.15 L234.42 191.29 L234.26 190.44 L234.10 189.58 L233.95 188.72 L233.79 187.86 L233.64 187.00 L233.49 186.14 L233.35 185.28 L233.20 184.42 L233.05 183.56 L232.91 182.70 L232.76 181.84 L232.62 180.98 L232.48 180.12 L232.34 179.25 L232.20 178.39 L232.06 177.53 L231.92 176.67 L231.78 175.80 L231.64 174.94 L231.50 174.08 L231.37 173.21 L231.23 172.35 L231.10 171.49 L230.97 170.62 L230.83 169.76 L230.70 168.89 L230.57 168.03 L230.44 167.16 L230.30 166.30 L230.17 165.44 L230.04 164.57 L229.92 163.71 L229.79 162.84 L229.66 161.97 L229.53 161.11 L229.41 160.24 L229.28 159.38 L229.15 158.51 L229.03 157.65 L228.90 156.78 L228.78 155.91 L228.65 155.05 L228.53 154.18 L228.40 153.32 L228.28 152.45 L228.16 151.58 L228.04 150.72 L227.91 149.85 L227.79 148.98 L227.67 148.12 L227.56 147.25 L227.44 146.38 L227.32 145.51 L227.20 144.65 L227.07 143.78 L226.95 142.91 L226.83 142.05 L226.71 141.18 L226.59 140.31 L226.47 139.44 L226.35 138.58 L226.23 137.71 L226.11 136.84 L225.99 135.98 L225.86 135.11 L225.74 134.24 L225.62 133.37 L225.50 132.51 L225.37 131.64 L225.25 130.77 L225.12 129.91 L225.00 129.04 L224.87 128.17 L224.75 127.31 L224.62 126.44 L224.49 125.57 L224.36 124.71 L224.24 123.84 L224.11 122.98 L223.98 122.11 L223.85 121.24 L223.71 120.38 L223.58 119.51 L223.45 118.65 L223.32 117.78 L223.18 116.92 L223.04 116.05 L222.90 115.19 L222.76 114.32 L222.62 113.46 L222.48 112.60 L222.34 111.73 L222.19 110.87 L222.05 110.01 L221.90 109.14 L221.76 108.28 L221.61 107.42 L221.46 106.55 L221.31 105.69 L221.16 104.83 L221.01 103.97 L220.85 103.10 L220.70 102.24 L220.54 101.38 L220.38 100.52 L220.23 99.66 L220.07 98.80 L219.91 97.94 L219.74 97.08 L219.58 96.22 L219.41 95.36 L219.25 94.50 L219.08 93.64 L218.91 92.78 L218.74 91.92 L218.57 91.06 L218.40 90.20 L218.23 89.34 L218.05 88.49 L217.87 87.63 L217.70 86.77 L217.51 85.91 L217.33 85.06 L217.14 84.20 L216.95 83.35 L216.76 82.49 L216.56 81.64 L216.37 80.78 L216.17 79.93 L215.97 79.08 L215.77 78.22 L215.57 77.37 L215.36 76.52 L215.15 75.67 L214.95 74.82 L214.74 73.97 L214.52 73.12 L214.31 72.27 L214.09 71.42 L213.87 70.57 L213.65 69.72 L213.43 68.87 L213.20 68.02 L212.98 67.17 L212.75 66.32 L212.52 65.48 L212.28 64.63 L212.05 63.79 L211.81 62.94 L211.57 62.10 L211.32 61.25 L211.08 60.41 L210.83 59.56 L210.58 58.72 L210.33 57.88 L210.08 57.03 L209.82 56.19 L209.55 55.35 L209.28 54.52 L209.00 53.68 L208.72 52.84 L208.43 52.01 L208.13 51.17 L207.84 50.34 L207.53 49.51 L207.22 48.68 L206.91 47.86 L206.58 47.03 L206.25 46.22 L205.91 45.40 L205.55 44.59 L205.19 43.79 L204.81 42.99 L204.43 42.19 L204.03 41.40 L203.62 40.61 L203.19 39.84 L202.75 39.07 L202.29 38.30 L201.82 37.55 L201.33 36.80 L200.82 36.07 L200.30 35.34 L199.75 34.63 L199.20 33.92 L198.62 33.23 L198.03 32.55 L197.43 31.88 L196.81 31.22 L196.17 30.58 L195.53 29.95 L194.87 29.34 L194.20 28.74 L193.51 28.16 L192.82 27.59 L192.11 27.04 L191.39 26.50 L190.66 25.98 L189.93 25.48 L189.18 24.99 L188.43 24.51 L187.66 24.05 L186.90 23.61 L186.12 23.17 L185.34 22.75 L184.55 22.34 L183.75 21.95 L182.95 21.56 L182.15 21.19 L181.34 20.83 L180.52 20.48 L179.70 20.14 L178.88 19.81 L178.06 19.49 L177.23 19.19 L176.39 18.89 L175.56 18.60 L174.72 18.32 L173.88 18.05 L173.04 17.79 L172.19 17.53 L171.34 17.29 L170.49 17.05 L169.64 16.82 L168.78 16.60 L167.93 16.39 L167.07 16.18 L166.21 15.98 L165.35 15.79 L164.48 15.61 L163.62 15.43 L162.75 15.26 L161.89 15.09 L161.02 14.93 L160.15 14.78 L159.28 14.63 L158.41 14.49 L157.54 14.36 L156.67 14.23 L155.80 14.10 L154.93 13.98 L154.06 13.87 L153.19 13.76 L152.32 13.65 L151.44 13.55 L150.57 13.45 L149.70 13.35 L148.82 13.26 L147.95 13.17 L147.08 13.08 L146.20 12.99 L145.33 12.91 L144.46 12.83 L143.58 12.75 L142.71 12.68 L141.84 12.61 L140.96 12.54 L140.09 12.47 L139.21 12.40 L138.34 12.33 L137.47 12.26 L136.59 12.20 L135.72 12.14 L134.85 12.08 L133.97 12.02 L133.10 11.96 L132.22 11.90 L131.35 11.85 L130.48 11.79 L129.60 11.74 L128.73 11.69 L127.85 11.64 L126.98 11.59 L126.10 11.54 L125.23 11.50 L124.36 11.45 L123.48 11.41 L122.61 11.36 L121.73 11.32 L120.86 11.28 L119.98 11.24 L119.11 11.21 L118.23 11.17 L117.36 11.13 L116.49 11.10 L115.61 11.06 L114.74 11.03 L113.86 11.00 L112.99 10.97 L112.11 10.94 L111.24 10.91 L110.36 10.88 L109.49 10.85 L108.61 10.82 L107.74 10.80 L106.86 10.77 L105.99 10.75 L105.12 10.72 L104.24 10.70 L103.37 10.68 L102.49 10.66 L101.62 10.64 L100.74 10.62 L99.87 10.60 L98.99 10.58 L98.12 10.56 L97.24 10.54 L96.37 10.52 L95.49 10.51 L94.62 10.49 L93.74 10.47 L92.87 10.46 L91.99 10.44 L91.12 10.43 L90.24 10.41 L89.37 10.40 L88.49 10.38 L87.62 10.37 L86.74 10.35 L85.87 10.34 L84.99 10.32 L84.12 10.31 L83.24 10.30 L82.37 10.28 L81.49 10.27 L80.62 10.26 L79.74 10.24 L78.87 10.23 L78.00 10.22 L77.12 10.20 L76.25 10.19 L75.37 10.18 L74.50 10.16 L73.62 10.15 L72.75 10.14 L71.87 10.12 L71.00 10.11 L70.12 10.10 L69.25 10.08 L68.37 10.07 L67.50 10.05 L66.63 10.04 L65.75 10.02 L64.88 10.01 L64.00 9.99 L63.13 9.98 L62.25 9.96 L61.38 9.94 L60.50 9.93 L59.63 9.91 L58.76 9.89 L57.88 9.87 L57.01 9.85 L56.13 9.84 L55.26 9.82 L54.39 9.79 L53.51 9.77 L52.64 9.75 L51.76 9.73 L50.89 9.71 L50.03 9.68 L49.49 9.64 L48.94 9.58 L48.38 9.52 L47.82 9.45 L47.25 9.39 L46.69 9.33 L46.13 9.27 L45.62 9.21 L44.98 9.02 L44.29 8.82 L43.61 8.62 L42.92 8.42 L42.23 8.22 L41.54 8.02 L40.86 7.82 L40.11 7.61 L39.31 7.53 L38.56 7.45 L37.81 7.38 L37.06 7.30 L36.31 7.23 L35.56 7.15 L34.81 7.08 L34.06 7.00 Z" fill="#00ff00" stroke="none"/>
<path d="M34.00 8.10 L34.94 8.10 L35.88 8.10 L36.81 8.10 L37.75 8.10 L38.69 8.10 L39.62 8.10 L40.56 8.10 L41.46 8.10 L41.89 8.20 L42.39 8.31 L42.89 8.43 L43.39 8.54 L43.89 8.65 L44.39 8.76 L44.89 8.88 L45.47 9.00 L46.81 9.01 L48.12 9.01 L49.44 9.02 L50.75 9.02 L52.06 9.03 L53.37 9.04 L54.67 9.04 L55.93 9.12 L56.73 9.17 L57.51 9.21 L58.30 9.25 L59.09 9.29 L59.87 9.33 L60.66 9.36 L61.45 9.38 L62.23 9.41 L63.02 9.43 L63.80 9.45 L64.58 9.48 L65.37 9.50 L66.15 9.52 L66.94 9.54 L67.72 9.55 L68.50 9.57 L69.28 9.59 L70.07 9.61 L70.85 9.62 L71.63 9.64 L72.41 9.65 L73.19 9.66 L73.97 9.68 L74.75 9.69 L75.53 9.70 L76.31 9.71 L77.09 9.73 L77.87 9.74 L78.65 9.75 L79.43 9.76 L80.21 9.77 L80.99 9.78 L81.77 9.79 L82.54 9.80 L83.32 9.81 L84.10 9.81 L84.88 9.82 L85.65 9.83 L86.43 9.84 L87.21 9.85 L87.99 9.86 L88.76 9.87 L89.54 9.88 L90.32 9.89 L91.09 9.90 L91.87 9.91 L92.65 9.92 L93.42 9.93 L94.20 9.94 L94.98 9.95 L95.75 9.96 L96.53 9.97 L97.31 9.98 L98.08 10.00 L98.86 10.01 L99.64 10.02 L100.41 10.04 L101.19 10.05 L101.96 10.07 L102.74 10.08 L103.52 10.10 L104.29 10.12 L105.07 10.14 L105.84 10.16 L106.62 10.18 L107.40 10.21 L108.17 10.23 L108.95 10.26 L109.73 10.29 L110.50 10.32 L111.28 10.35 L112.06 10.38 L112.83 10.41 L113.61 10.44 L114.39 10.48 L115.16 10.51 L115.94 10.55 L116.72 10.58 L117.50 10.61 L118.27 10.65 L119.05 10.69 L119.83 10.73 L120.61 10.77 L121.39 10.81 L122.17 10.86 L122.95 10.90 L123.72 10.95 L124.50 11.00 L125.28 11.05 L126.06 11.10 L126.84 11.16 L127.62 11.22 L128.40 11.28 L129.18 11.34 L129.96 11.40 L130.75 11.47 L131.53 11.54 L132.31 11.61 L133.09 11.68 L133.87 11.75 L134.65 11.83 L135.44 11.91 L136.22 11.99 L137.00 12.07 L137.79 12.15 L138.57 12.24 L139.35 12.33 L140.14 12.43 L140.92 12.52 L141.70 12.63 L142.48 12.73 L143.26 12.84 L144.04 12.95 L144.82 13.07 L145.59 13.20 L146.36 13.33 L147.13 13.46 L147.90 13.61 L148.66 13.75 L149.42 13.91 L150.18 14.07 L150.93 14.25 L151.68 14.43 L152.42 14.62 L153.16 14.82 L153.89 15.03 L154.62 15.25 L155.34 15.47 L156.06 15.71 L156.77 15.96 L157.48 16.22 L158.18 16.49 L158.87 16.77 L159.55 17.07 L160.23 17.38 L160.90 17.70 L161.57 18.03 L162.22 18.37 L162.87 18.73 L163.51 19.10 L164.15 19.49 L164.77 19.89 L165.39 20.30 L165.99 20.73 L166.59 21.18 L167.18 21.64 L167.76 22.12 L168.33 22.62 L168.89 23.13 L169.45 23.66 L169.99 24.20 L170.52 24.76 L171.04 25.33 L171.55 25.91 L172.04 26.51 L172.52 27.12 L172.98 27.74 L173.43 28.37 L173.86 29.01 L174.27 29.66 L174.67 30.31 L175.06 30.98 L175.43 31.65 L175.78 32.33 L176.12 33.01 L176.45 33.71 L176.77 34.41 L177.08 35.11 L177.37 35.82 L177.66 36.53 L177.93 37.25 L178.20 37.98 L178.46 38.70 L178.71 39.43 L178.96 40.16 L179.21 40.90 L179.44 41.63 L179.67 42.37 L179.90 43.11 L180.12 43.85 L180.34 44.60 L180.56 45.34 L180.77 46.09 L180.97 46.83 L181.18 47.58 L181.38 48.33 L181.58 49.08 L181.78 49.83 L181.97 50.58 L182.16 51.33 L182.35 52.08 L182.53 52.83 L182.72 53.59 L182.90 54.34 L183.07 55.09 L183.25 55.85 L183.42 56.61 L183.58 57.36 L183.75 58.12 L183.91 58.88 L184.07 59.63 L184.23 60.39 L184.38 61.15 L184.54 61.91 L184.69 62.67 L184.83 63.43 L184.98 64.19 L185.12 64.96 L185.27 65.72 L185.40 66.48 L185.54 67.24 L185.68 68.01 L185.81 68.77 L185.94 69.53 L186.07 70.30 L186.20 71.06 L186.32 71.83 L186.45 72.60 L186.57 73.36 L186.69 74.13 L186.80 74.90 L186.92 75.66 L187.03 76.43 L187.15 77.20 L187.26 77.97 L187.36 78.74 L187.47 79.51 L187.58 80.28 L187.68 81.05 L187.78 81.82 L187.88 82.59 L187.98 83.36 L188.08 84.13 L188.18 84.90 L188.27 85.68 L188.37 86.45 L188.46 87.22 L188.56 87.99 L188.65 88.77 L188.74 89.54 L188.84 90.31 L188.92 91.09 L189.01 91.86 L189.10 92.63 L189.19 93.41 L189.27 94.18 L189.35 94.96 L189.44 95.73 L189.52 96.51 L189.59 97.29 L189.67 98.06 L189.75 98.84 L189.83 99.61 L189.90 100.39 L189.97 101.17 L190.05 101.94 L190.12 102.72 L190.19 103.50 L190.26 104.28 L190.33 105.05 L190.40 105.83 L190.47 106.61 L190.54 107.39 L190.60 108.17 L190.67 108.94 L190.74 109.72 L190.80 110.50 L190.87 111.28 L190.93 112.06 L190.99 112.84 L191.06 113.62 L191.12 114.39 L191.18 115.17 L191.24 115.95 L191.30 116.73 L191.37 117.51 L191.43 118.29 L191.49 119.07 L191.55 119.85 L191.62 120.63 L191.68 121.40 L191.74 122.18 L191.80 122.96 L191.87 123.74 L191.93 124.52 L191.99 125.30 L192.05 126.08 L192.11 126.86 L192.17 127.64 L192.24 128.41 L192.30 129.19 L192.35 129.97 L192.41 130.75 L192.47 131.53 L192.53 132.31 L192.59 133.09 L192.65 133.86 L192.71 134.64 L192.77 135.42 L192.83 136.20 L192.89 136.98 L192.95 137.76 L193.01 138.53 L193.07 139.31 L193.13 140.09 L193.19 140.87 L193.25 141.64 L193.31 142.42 L193.37 143.20 L193.43 143.98 L193.49 144.75 L193.55 145.53 L193.62 146.31 L193.68 147.09 L193.74 147.86 L193.80 148.64 L193.86 149.42 L193.93 150.19 L193.98 150.97 L194.04 151.75 L194.10 152.53 L194.16 153.30 L194.22 154.08 L194.28 154.86 L194.34 155.63 L194.41 156.41 L194.47 157.19 L194.53 157.96 L194.59 158.74 L194.65 159.52 L194.71 160.30 L194.78 161.07 L194.84 161.85 L194.90 162.63 L194.97 163.40 L195.03 164.18 L195.10 164.95 L195.16 165.73 L195.23 166.51 L195.29 167.28 L195.36 168.06 L195.42 168.84 L195.49 169.61 L195.56 170.39 L195.62 171.17 L195.69 171.94 L195.76 172.72 L195.83 173.49 L195.90 174.27 L195.97 175.05 L196.04 175.82 L196.11 176.60 L196.18 177.38 L196.25 178.15 L196.32 178.93 L196.39 179.70 L196.47 180.48 L196.54 181.26 L196.61 182.03 L196.69 182.81 L196.76 183.58 L196.84 184.36 L196.91 185.14 L196.99 185.91 L197.07 186.69 L197.14 187.46 L197.22 188.24 L197.30 189.02 L197.38 189.79 L197.46 190.57 L197.54 191.34 L197.62 192.12 L197.70 192.90 L197.78 193.67 L197.86 194.45 L197.95 195.23 L198.03 196.00 L198.11 196.78 L198.20 197.55 L198.28 198.33 L198.37 199.11 L198.46 199.88 L198.54 200.66 L198.63 201.44 L198.72 202.21 L198.81 202.99 L198.90 203.76 L198.99 204.54 L199.08 205.32 L199.17 206.09 L199.27 206.87 L199.36 207.65 L199.45 208.42 L199.55 209.20 L199.64 209.98 L199.74 210.75 L199.84 211.53 L199.93 212.31 L200.07 213.21 L203.24 220.40 L204.16 220.00 L200.99 212.83 L200.93 212.18 L200.83 211.41 L200.73 210.63 L200.64 209.85 L200.54 209.08 L200.45 208.30 L200.35 207.53 L200.26 206.75 L200.17 205.98 L200.07 205.20 L199.98 204.42 L199.89 203.65 L199.80 202.87 L199.71 202.10 L199.62 201.32 L199.54 200.55 L199.45 199.77 L199.36 199.00 L199.28 198.22 L199.19 197.45 L199.11 196.67 L199.02 195.89 L198.94 195.12 L198.86 194.34 L198.78 193.57 L198.69 192.79 L198.61 192.02 L198.53 191.24 L198.45 190.47 L198.37 189.69 L198.29 188.92 L198.22 188.14 L198.14 187.37 L198.06 186.59 L197.98 185.81 L197.91 185.04 L197.83 184.26 L197.76 183.49 L197.68 182.71 L197.61 181.94 L197.54 181.16 L197.46 180.39 L197.39 179.61 L197.32 178.84 L197.25 178.06 L197.17 177.28 L197.10 176.51 L197.03 175.73 L196.96 174.96 L196.89 174.18 L196.83 173.41 L196.76 172.63 L196.69 171.85 L196.62 171.08 L196.55 170.30 L196.49 169.53 L196.42 168.75 L196.35 167.98 L196.29 167.20 L196.22 166.42 L196.16 165.65 L196.09 164.87 L196.03 164.10 L195.96 163.32 L195.90 162.54 L195.84 161.77 L195.77 160.99 L195.71 160.21 L195.65 159.44 L195.59 158.66 L195.53 157.89 L195.46 157.11 L195.40 156.33 L195.34 155.56 L195.28 154.78 L195.22 154.00 L195.16 153.23 L195.10 152.45 L195.04 151.67 L194.98 150.90 L194.92 150.12 L194.87 149.34 L194.81 148.56 L194.76 147.79 L194.70 147.01 L194.65 146.23 L194.59 145.45 L194.54 144.68 L194.49 143.90 L194.43 143.12 L194.38 142.34 L194.33 141.57 L194.27 140.79 L194.22 140.01 L194.17 139.23 L194.11 138.45 L194.06 137.68 L194.01 136.90 L193.96 136.12 L193.91 135.34 L193.85 134.56 L193.80 133.78 L193.75 133.00 L193.70 132.22 L193.65 131.45 L193.59 130.67 L193.54 129.89 L193.49 129.11 L193.44 128.33 L193.39 127.55 L193.35 126.77 L193.30 125.99 L193.25 125.21 L193.20 124.43 L193.15 123.65 L193.10 122.87 L193.05 122.09 L193.00 121.31 L192.95 120.53 L192.90 119.75 L192.85 118.97 L192.80 118.19 L192.75 117.41 L192.70 116.63 L192.65 115.85 L192.59 115.07 L192.54 114.29 L192.48 113.51 L192.42 112.73 L192.37 111.95 L192.31 111.17 L192.25 110.39 L192.19 109.61 L192.14 108.83 L192.08 108.05 L192.02 107.27 L191.96 106.49 L191.89 105.71 L191.83 104.93 L191.77 104.15 L191.70 103.37 L191.64 102.59 L191.57 101.81 L191.51 101.03 L191.44 100.25 L191.37 99.47 L191.30 98.69 L191.23 97.91 L191.16 97.13 L191.09 96.36 L191.01 95.58 L190.94 94.80 L190.86 94.02 L190.79 93.24 L190.71 92.46 L190.63 91.69 L190.55 90.91 L190.47 90.13 L190.39 89.35 L190.31 88.58 L190.22 87.80 L190.14 87.02 L190.05 86.25 L189.96 85.47 L189.86 84.70 L189.77 83.92 L189.67 83.15 L189.57 82.37 L189.47 81.60 L189.37 80.82 L189.26 80.05 L189.16 79.28 L189.05 78.50 L188.94 77.73 L188.83 76.96 L188.72 76.18 L188.60 75.41 L188.48 74.64 L188.37 73.87 L188.25 73.10 L188.12 72.33 L188.00 71.56 L187.87 70.79 L187.75 70.02 L187.62 69.25 L187.49 68.48 L187.35 67.71 L187.22 66.94 L187.08 66.18 L186.94 65.41 L186.79 64.64 L186.65 63.88 L186.50 63.11 L186.35 62.34 L186.20 61.58 L186.05 60.81 L185.89 60.05 L185.74 59.29 L185.57 58.52 L185.41 57.76 L185.25 57.00 L185.08 56.24 L184.91 55.47 L184.74 54.71 L184.57 53.95 L184.39 53.19 L184.21 52.43 L184.03 51.67 L183.85 50.91 L183.67 50.15 L183.48 49.40 L183.29 48.64 L183.09 47.88 L182.90 47.12 L182.70 46.37 L182.50 45.61 L182.29 44.86 L182.09 44.10 L181.88 43.35 L181.66 42.59 L181.44 41.84 L181.22 41.08 L180.99 40.33 L180.75 39.58 L180.51 38.83 L180.25 38.08 L179.99 37.33 L179.71 36.58 L179.43 35.84 L179.13 35.10 L178.83 34.37 L178.51 33.63 L178.18 32.91 L177.83 32.18 L177.47 31.46 L177.10 30.75 L176.71 30.04 L176.31 29.34 L175.89 28.65 L175.45 27.97 L174.99 27.29 L174.52 26.62 L174.03 25.97 L173.52 25.32 L173.00 24.69 L172.46 24.07 L171.91 23.46 L171.35 22.87 L170.78 22.30 L170.19 21.74 L169.59 21.19 L168.98 20.67 L168.35 20.17 L167.72 19.68 L167.08 19.22 L166.43 18.77 L165.77 18.34 L165.11 17.92 L164.43 17.53 L163.75 17.14 L163.06 16.78 L162.37 16.43 L161.66 16.09 L160.95 15.78 L160.24 15.47 L159.51 15.18 L158.79 14.90 L158.05 14.64 L157.32 14.39 L156.57 14.15 L155.83 13.92 L155.08 13.70 L154.32 13.49 L153.56 13.30 L152.80 13.11 L152.03 12.93 L151.26 12.76 L150.49 12.60 L149.72 12.45 L148.94 12.30 L148.16 12.17 L147.38 12.03 L146.59 11.91 L145.81 11.79 L145.02 11.68 L144.24 11.57 L143.45 11.47 L142.66 11.37 L141.87 11.28 L141.08 11.19 L140.29 11.11 L139.50 11.02 L138.71 10.94 L137.92 10.86 L137.13 10.79 L136.35 10.71 L135.56 10.64 L134.77 10.56 L133.99 10.49 L133.20 10.43 L132.42 10.36 L131.63 10.30 L130.85 10.23 L130.06 10.17 L129.28 10.12 L128.49 10.06 L127.71 10.01 L126.93 9.95 L126.14 9.90 L125.36 9.85 L124.58 9.80 L123.80 9.75 L123.02 9.70 L122.24 9.66 L121.45 9.61 L120.67 9.57 L119.89 9.53 L119.11 9.49 L118.33 9.45 L117.55 9.42 L116.77 9.38 L115.99 9.35 L115.21 9.31 L114.43 9.28 L113.66 9.26 L112.88 9.23 L112.10 9.21 L111.32 9.18 L110.54 9.16 L109.76 9.14 L108.98 9.12 L108.21 9.10 L107.43 9.08 L106.65 9.07 L105.87 9.05 L105.10 9.04 L104.32 9.02 L103.54 9.00 L102.76 8.98 L101.99 8.97 L101.21 8.95 L100.43 8.94 L99.65 8.92 L98.88 8.91 L98.10 8.90 L97.32 8.88 L96.55 8.87 L95.77 8.86 L94.99 8.85 L94.22 8.84 L93.44 8.83 L92.66 8.82 L91.89 8.81 L91.11 8.80 L90.33 8.79 L89.55 8.78 L88.78 8.77 L88.00 8.76 L87.22 8.75 L86.45 8.74 L85.67 8.73 L84.89 8.72 L84.11 8.71 L83.33 8.71 L82.56 8.70 L81.78 8.69 L81.00 8.68 L80.22 8.67 L79.44 8.66 L78.66 8.65 L77.89 8.64 L77.11 8.63 L76.33 8.61 L75.55 8.60 L74.77 8.59 L73.99 8.58 L73.21 8.56 L72.43 8.55 L71.65 8.54 L70.87 8.52 L70.09 8.51 L69.31 8.49 L68.53 8.47 L67.74 8.45 L66.96 8.44 L66.18 8.42 L65.40 8.40 L64.61 8.38 L63.83 8.35 L63.05 8.33 L62.26 8.31 L61.48 8.28 L60.70 8.26 L59.91 8.23 L59.13 8.21 L58.34 8.19 L57.56 8.17 L56.77 8.15 L55.99 8.13 L54.70 8.04 L53.38 8.04 L52.06 8.03 L50.75 8.03 L49.44 8.02 L48.13 8.01 L46.81 8.01 L45.53 8.00 L45.11 7.90 L44.61 7.79 L44.11 7.67 L43.61 7.56 L43.11 7.45 L42.61 7.34 L42.11 7.22 L41.54 7.10 L40.56 7.10 L39.62 7.10 L38.69 7.10 L37.75 7.10 L36.81 7.10 L35.88 7.10 L34.94 7.10 L34.00 7.10 Z" fill="#0000ff" stroke="none"/>
<path d="M34 7.5 H41.5" stroke="#10108c" stroke-width="1" fill="none"/>
<path d="M272 220.5 H321.3" stroke="#b41414" stroke-width="1" fill="none"/>
<!-- labels -->
<g class="l">
<text transform="translate(137.2 75.6) scale(0.966 1)">120GeV</text>
<text transform="translate(211.2 53.6) scale(0.966 1)">150GeV</text>
<text transform="translate(69.5 107.5) scale(0.977 1)">200GeV</text>
</g>
<text x="86.70" y="233" text-anchor="middle" class="t">20</text>
<text x="145.26" y="233" text-anchor="middle" class="t">40</text>
<text x="203.82" y="233" text-anchor="middle" class="t">60</text>
<text x="262.38" y="233" text-anchor="middle" class="t">80</text>
<text x="320.94" y="233" text-anchor="middle" class="t">100</text>
<text x="379.50" y="233" text-anchor="middle" class="t">120</text>
<text x="31.0" y="223.80" text-anchor="end" class="t">0.0</text>
<text x="31.0" y="181.20" text-anchor="end" class="t">0.2</text>
<text x="31.0" y="138.60" text-anchor="end" class="t">0.4</text>
<text x="31.0" y="96.00" text-anchor="end" class="t">0.6</text>
<text x="31.0" y="53.40" text-anchor="end" class="t">0.8</text>
<text x="31.0" y="10.80" text-anchor="end" class="t">1.0</text>
<!-- x axis label -->
<g class="a">
<text transform="translate(182.0 250.7) scale(0.977 1)" font-style="italic">m</text>
<text transform="translate(192.4 253.2) scale(0.977 1)" font-style="italic" style="font-size:9.6px">D</text>
<text transform="translate(198.7 250.7) scale(0.977 1)">(GeV)</text>
</g>
<!-- y axis label -->
<g transform="translate(11.0 142.2) rotate(-90)">
<text x="0" y="0" style="font-family:'Liberation Serif',serif;font-size:10px;fill:#000">B</text>
<text transform="translate(6.6 0) scale(0.977 1)" class="a">(h</text>
<path d="M19.4 -3.5 H34.0 M31.7 -6.0 L34.4 -3.5 L31.7 -1.0" stroke="#222" stroke-width="0.9" fill="none"/>
<text transform="translate(35.9 0) scale(0.977 1)" class="a">DD)</text>
</g>
</svg>
</body></html>
